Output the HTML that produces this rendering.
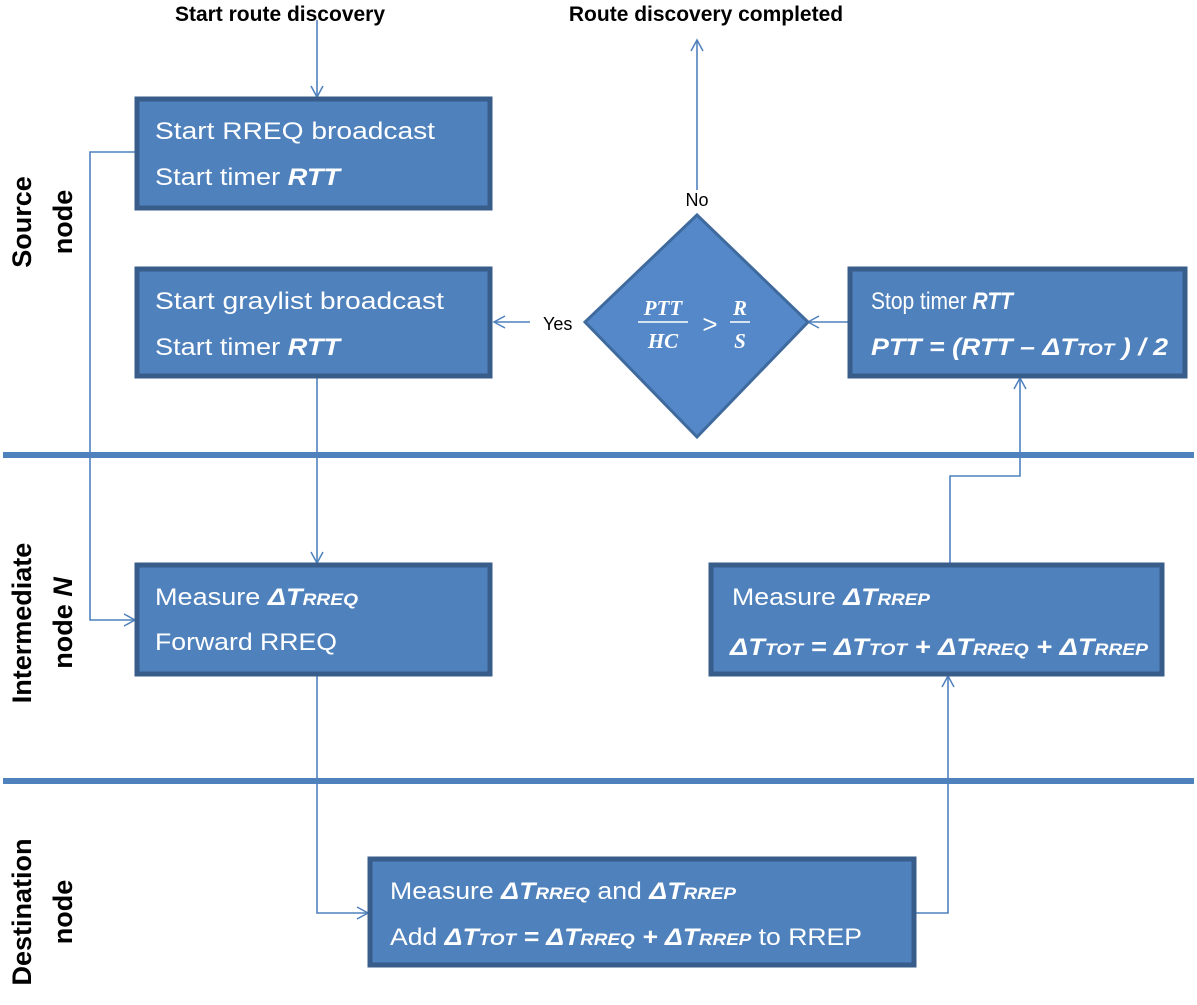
<!DOCTYPE html>
<html><head><style>
body{margin:0;background:#fff;width:1197px;height:1000px;overflow:hidden;font-family:"Liberation Sans",sans-serif}
</style></head><body>
<svg width="1197" height="1000" xmlns="http://www.w3.org/2000/svg" font-family="Liberation Sans, sans-serif">
<defs><marker id="a" markerWidth="14" markerHeight="14" refX="12" refY="7" orient="auto" markerUnits="userSpaceOnUse"><path d="M1,1 L12,7 L1,13" fill="none" stroke="#4f81bd" stroke-width="1.5"/></marker></defs>
<g font-weight="bold" font-size="21" fill="#000">
<text x="280" y="21" text-anchor="middle">Start route discovery</text>
<text x="706" y="21" text-anchor="middle">Route discovery completed</text>
</g>
<g font-weight="bold" font-size="27" fill="#000" text-anchor="middle">
<text transform="translate(31,222) rotate(-90)">Source</text>
<text transform="translate(72,222) rotate(-90)">node</text>
<text transform="translate(31,623) rotate(-90)">Intermediate</text>
<text transform="translate(72,623) rotate(-90)">node <tspan font-style="italic">N</tspan></text>
<text transform="translate(31,912) rotate(-90)">Destination</text>
<text transform="translate(72,912) rotate(-90)">node</text>
</g>
<rect x="3" y="452" width="1191" height="6" fill="#4f81bd"/>
<rect x="3" y="778" width="1191" height="6" fill="#4f81bd"/>
<g stroke="#4f81bd" stroke-width="1.6" fill="none" marker-end="url(#a)">
<path d="M317,20 V97"/>
<path d="M697,190 V40"/>
<path d="M135,152 H90 V620 H135"/>
<path d="M317,378 V563"/>
<path d="M317,676 V913 H368"/>
<path d="M916,913 H948 V676"/>
<path d="M950,563 V476 H1020 V378"/>
<path d="M848,322 H808"/>
<path d="M530,322 H494"/>
</g>
<text x="543" y="330" font-size="18">Yes</text>
<text x="697" y="206" font-size="18" text-anchor="middle">No</text>
<g fill="#4f81bd" stroke="#385d8a" stroke-width="5">
<rect x="137" y="99" width="353" height="109"/>
<rect x="137" y="269" width="353" height="107"/>
<rect x="137" y="565" width="353" height="109"/>
<rect x="711" y="565" width="451" height="109"/>
<rect x="850" y="269" width="335" height="107"/>
<rect x="370" y="859" width="544" height="106"/>
</g>
<polygon points="697,215 808,322 697,437 585,322" fill="#5588c8" stroke="#3f6a9e" stroke-width="3"/>
<g fill="#fff" font-size="24">
<text x="155" y="139" textLength="280" lengthAdjust="spacingAndGlyphs">Start  RREQ  broadcast</text>
<text x="155" y="185" textLength="185" lengthAdjust="spacingAndGlyphs">Start timer <tspan font-weight="bold" font-style="italic">RTT</tspan></text>
<text x="155" y="309" textLength="289" lengthAdjust="spacingAndGlyphs">Start  graylist broadcast</text>
<text x="155" y="355" textLength="185" lengthAdjust="spacingAndGlyphs">Start timer <tspan font-weight="bold" font-style="italic">RTT</tspan></text>
<text x="155" y="605" textLength="203" lengthAdjust="spacingAndGlyphs">Measure  <tspan font-weight="bold" font-style="italic">ΔT</tspan><tspan font-weight="bold" font-style="italic" font-size="17">RREQ</tspan></text>
<text x="155" y="650" textLength="182" lengthAdjust="spacingAndGlyphs">Forward RREQ</text>
<text x="732" y="605" textLength="198" lengthAdjust="spacingAndGlyphs">Measure <tspan font-weight="bold" font-style="italic">ΔT</tspan><tspan font-weight="bold" font-style="italic" font-size="17">RREP</tspan></text>
<text x="730" y="655" font-weight="bold" font-style="italic" textLength="418" lengthAdjust="spacingAndGlyphs">ΔT<tspan font-size="17">TOT</tspan> = ΔT<tspan font-size="17">TOT</tspan> + ΔT<tspan font-size="17">RREQ</tspan>  + ΔT<tspan font-size="17">RREP</tspan></text>
<text x="871" y="309" textLength="142" lengthAdjust="spacingAndGlyphs">Stop timer <tspan font-weight="bold" font-style="italic">RTT</tspan></text>
<text x="871" y="355" font-weight="bold" font-style="italic" textLength="297" lengthAdjust="spacingAndGlyphs">PTT = (RTT – ΔT<tspan font-size="17">TOT</tspan> ) / 2</text>
<text x="390" y="899" textLength="346" lengthAdjust="spacingAndGlyphs">Measure  <tspan font-weight="bold" font-style="italic">ΔT</tspan><tspan font-weight="bold" font-style="italic" font-size="17">RREQ</tspan> and <tspan font-weight="bold" font-style="italic">ΔT</tspan><tspan font-weight="bold" font-style="italic" font-size="17">RREP</tspan></text>
<text x="390" y="945" textLength="472" lengthAdjust="spacingAndGlyphs">Add <tspan font-weight="bold" font-style="italic">ΔT<tspan font-size="17">TOT</tspan> = ΔT<tspan font-size="17">RREQ</tspan>  + ΔT<tspan font-size="17">RREP</tspan></tspan> to RREP</text>
</g>
<g fill="#fff" font-family="Liberation Serif, serif" font-style="italic" font-weight="bold" font-size="21" text-anchor="middle">
<text x="663" y="315">PTT</text>
<text x="663" y="348">HC</text>
<text x="740" y="315">R</text>
<text x="740" y="348">S</text>
</g>
<g stroke="#fff" stroke-width="1.5">
<line x1="638" y1="322" x2="688" y2="322"/>
<line x1="730" y1="322" x2="750" y2="322"/>
</g>
<text x="710" y="333" fill="#fff" font-size="26" text-anchor="middle">&gt;</text>
</svg>
</body></html>
